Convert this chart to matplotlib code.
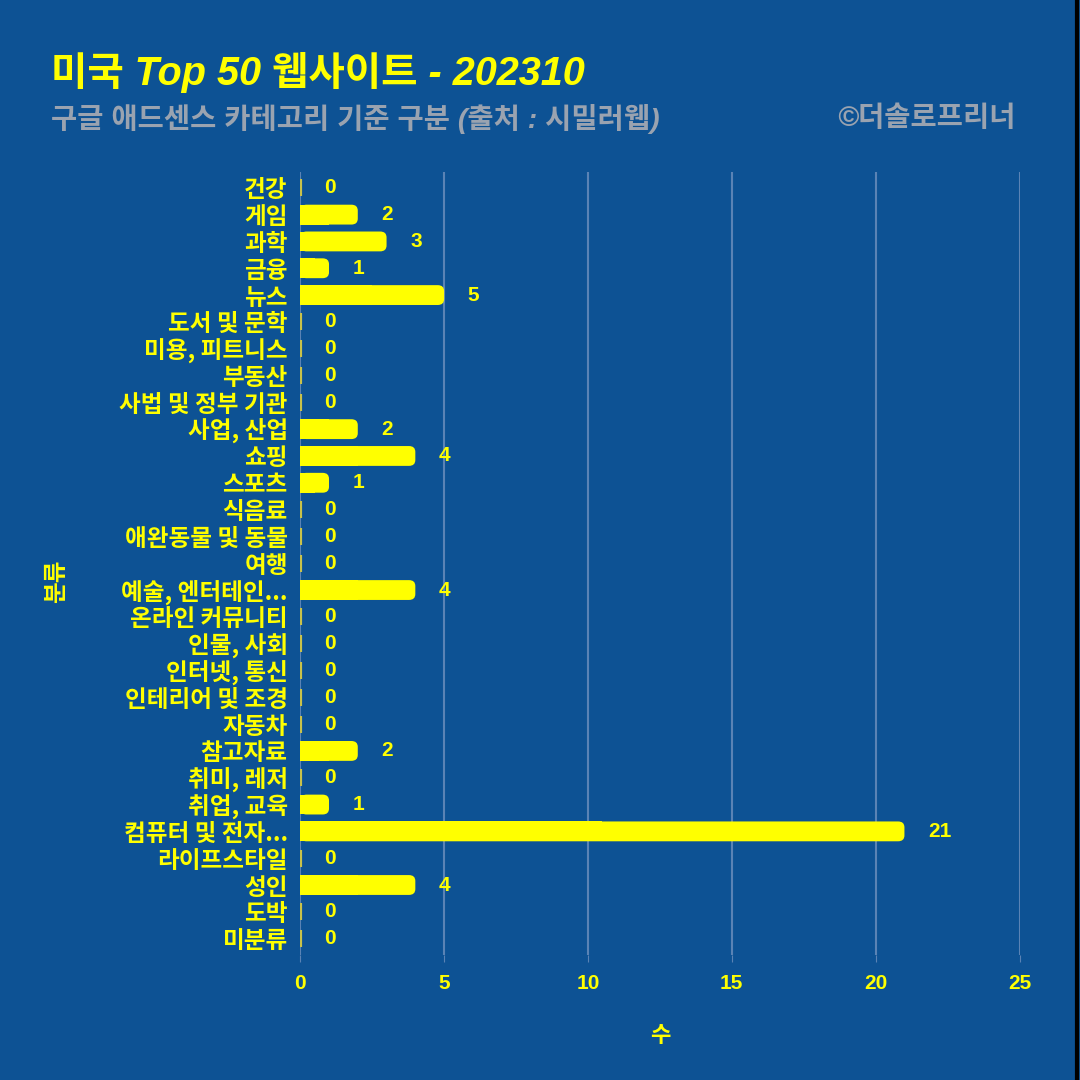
import numpy as np
import matplotlib
matplotlib.use("Agg")
import matplotlib.pyplot as plt
from matplotlib.patches import FancyBboxPatch, Rectangle
from matplotlib.lines import Line2D

plt.rcParams['font.family'] = ['Noto Sans CJK KR', 'DejaVu Sans']

categories = ["건강", "게임", "과학", "금융", "뉴스", "도서 및 문학", "미용, 피트니스",
              "부동산", "사법 및 정부 기관", "사업, 산업", "쇼핑", "스포츠", "식음료",
              "애완동물 및 동물", "여행", "예술, 엔터테인...", "온라인 커뮤니티", "인물, 사회",
              "인터넷, 통신", "인테리어 및 조경", "자동차", "참고자료", "취미, 레저",
              "취업, 교육", "컴퓨터 및 전자...", "라이프스타일", "성인", "도박", "미분류"]
counts = [0, 2, 3, 1, 5, 0, 0, 0, 0, 2, 4, 1, 0, 0, 0, 4, 0, 0, 0, 0, 0, 2, 0, 1, 21, 0, 4, 0, 0]
xticks = [0, 5, 10, 15, 20, 25]

bg = '#0d5294'
yellow = '#ffff00'
grid_c = '#5a83b5'
num_font = ['Liberation Sans', 'DejaVu Sans']
mixed_font = ['Liberation Sans', 'Noto Sans CJK KR']

fig = plt.figure(figsize=(10.8, 10.8), dpi=100, facecolor=bg)
ax = fig.add_axes([0.278, 0.116, 0.666, 0.725], facecolor=bg)

y = np.arange(len(categories))
bars = ax.barh(y, counts, height=0.74, color='none', edgecolor='none')
for b, v in zip(bars, counts):
    x0, y0, w, h = b.get_x(), b.get_y(), b.get_width(), b.get_height()
    if w > 0:
        r = 0.22
        ax.add_patch(FancyBboxPatch((x0 + r, y0 + r), w - 2 * r, h - 2 * r,
                                    boxstyle="round,pad=%f" % r,
                                    fc=yellow, ec='none', zorder=3))
        ax.add_patch(Rectangle((x0, y0), w / 2, h, fc=yellow, ec='none', zorder=3))
    else:
        ax.plot([0, 0], [y0 + 0.05, y0 + h - 0.05], color='#c8c24a', lw=3, zorder=3,
                solid_capstyle='butt')
    ax.annotate(str(v), (v, b.get_y() + h / 2), xytext=(17, 0), textcoords='offset points',
                ha='left', va='center', color=yellow, fontsize=15, fontweight='bold',
                family=num_font)

ax.set_xlim(0, 25)
ax.set_ylim(len(categories) - 0.4, -0.6)
ax.set_xticks(xticks)
ax.set_xticklabels([str(t) for t in xticks], color=yellow, fontsize=15, fontweight='bold',
                   family=num_font)
ax.set_yticks(y)
ax.set_yticklabels(categories, color=yellow, fontsize=17, fontweight='bold')
ax.tick_params(axis='y', length=0, pad=9)
ax.tick_params(axis='x', length=5, color=grid_c, pad=9)
ax.grid(axis='x', color=grid_c, lw=1.5, zorder=0)
ax.set_axisbelow(True)
for s in ax.spines.values():
    s.set_visible(False)

ax.set_xlabel("수", color=yellow, fontsize=16, fontweight='bold', labelpad=22)
fig.text(0.052, 0.462, "분류", color=yellow, fontsize=17, fontweight='bold',
         rotation=90, ha='center', va='center')

fig.text(0.047, 0.933, "미국 Top 50 웹사이트 - 202310", color=yellow, fontsize=28.5,
         fontweight='bold', style='italic', family=mixed_font, ha='left', va='center')
fig.text(0.047, 0.89, "구글 애드센스 카테고리 기준 구분 (출처 : 시밀러웹)", color='#9aa3b0',
         fontsize=20.5, fontweight='bold', style='italic', family=mixed_font,
         ha='left', va='center')
fig.text(0.94, 0.89, "©더솔로프리너", color='#9aa3b0', fontsize=20.5, fontweight='bold',
         style='italic', family=mixed_font, ha='right', va='center')

fig.add_artist(Line2D([0.997, 0.997], [0, 1], transform=fig.transFigure, color='black', lw=3))

fig.savefig("out.png", dpi=100, facecolor=bg)
